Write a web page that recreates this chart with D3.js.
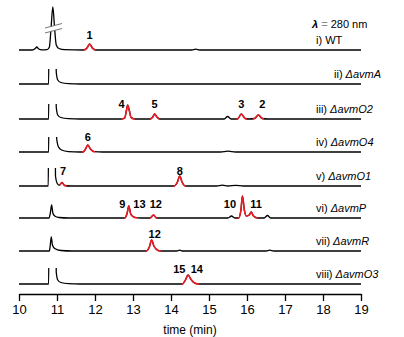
<!DOCTYPE html>
<html>
<head>
<meta charset="utf-8">
<script src="https://cdn.jsdelivr.net/npm/d3@7"></script>
<style>
body { margin: 0; background: #fff; }
svg text { font-family: "Liberation Sans", Arial, sans-serif; }
</style>
</head>
<body>
<svg width="404" height="337"></svg>
<script>
// chromatogram traces: [time (min), signal]
var traceWT = [[10,0],[10.35,0],[10.42,1.2],[10.47,3],[10.52,1],[10.6,0.2],[10.74,0.4],[10.8,3],[10.84,20],[10.89,43],[10.94,20],[10.98,5],[11.05,1.5],[11.2,0.3],[11.7,0],[11.79,2],[11.86,6],[11.93,2],[12.02,0],[14.55,0],[14.65,0.8],[14.75,0],[19,0]];
var traceA = [[10,0],[10.78,0],[10.79,60],[10.97,60],[10.98,12],[11.02,4],[11.1,1.5],[11.3,0.3],[11.6,0],[19,0]];
var traceO2 = [[10,0],[10.78,0],[10.79,60],[10.97,60],[10.98,12],[11.02,4],[11.1,1.5],[11.3,0.3],[11.6,0],[12.7,0],[12.78,1],[12.83,9],[12.86,14],[12.9,9],[12.95,1.5],[13.05,0],[13.45,0],[13.52,2],[13.57,5],[13.63,2],[13.7,0],[15.4,0],[15.49,2.5],[15.58,0],[15.75,0],[15.85,5],[15.95,0.5],[16.05,0],[16.2,0.5],[16.3,4],[16.4,0.5],[16.55,0],[19,0]];
var traceO4 = [[10,0],[10.78,0],[10.79,60],[10.98,60],[10.99,14],[11.04,5],[11.12,2],[11.3,0.4],[11.6,0],[11.68,0],[11.75,3],[11.81,7],[11.88,3],[11.98,0.3],[12.2,0],[15.3,0],[15.5,0.8],[15.7,0],[19,0]];
var traceO1 = [[10,0],[10.77,0],[10.78,60],[10.95,60],[10.96,10],[11.0,3],[11.06,0.8],[11.13,3.5],[11.2,0.5],[11.35,0],[14.08,0],[14.17,4],[14.23,10],[14.29,4],[14.38,0],[15.2,0],[15.35,0.8],[15.5,0],[15.7,0.6],[15.9,0],[19,0]];
var traceP = [[10,0],[10.79,0],[10.82,4],[10.86,13],[10.89,5],[10.94,2],[11.05,0.5],[11.3,0],[12.78,0],[12.84,4],[12.89,12],[12.94,4],[13.0,1.5],[13.08,0.3],[13.2,0],[13.45,0],[13.54,3],[13.62,0],[15.5,0],[15.59,2],[15.68,0],[15.78,0],[15.84,8],[15.88,22],[15.93,8],[15.98,2],[16.06,3],[16.11,6],[16.17,2],[16.28,0],[16.45,0],[16.54,2.5],[16.62,0],[19,0]];
var traceR = [[10,0],[10.8,0],[10.82,5],[10.85,14],[10.88,6],[10.94,2.5],[11.1,0.5],[11.4,0],[13.35,0],[13.43,4],[13.49,11],[13.55,5],[13.62,1.5],[13.72,0],[14.15,0],[14.23,0.8],[14.3,0],[16.5,0],[16.6,0.8],[16.7,0],[19,0]];
var traceO3 = [[10,0],[10.78,0],[10.79,60],[10.97,60],[10.98,12],[11.02,4],[11.1,1.5],[11.3,0.3],[11.6,0],[14.3,0],[14.38,4],[14.45,9],[14.52,5],[14.6,1.5],[14.72,0],[19,0]];

var traces = [traceWT, traceA, traceO2, traceO4, traceO1, traceP, traceR, traceO3];
var traceNumerals = ["i)", "ii)", "iii)", "iv)", "v)", "vi)", "vii)", "viii)"];
var traceStrains = ["WT", "\u0394avmA", "\u0394avmO2", "\u0394avmO4", "\u0394avmO1", "\u0394avmP", "\u0394avmR", "\u0394avmO3"];

// time windows of the numbered (red) peaks, per trace
var redWindows = [
  [[11.7, 12.03]],
  [],
  [[12.7, 13.05], [13.45, 13.7], [15.72, 16.0], [16.15, 16.45]],
  [[11.66, 12.0]],
  [[11.06, 11.26], [14.07, 14.4]],
  [[12.77, 13.12], [13.44, 13.64], [15.76, 16.28]],
  [[13.34, 13.75]],
  [[14.29, 14.75]]
];

// peak numbers: trace index, time, label
var peakLabels = [
  [0, 11.86, "1"],
  [2, 12.7, "4"], [2, 13.57, "5"], [2, 15.85, "3"], [2, 16.4, "2"],
  [3, 11.81, "6"],
  [4, 11.16, "7"], [4, 14.23, "8"],
  [5, 12.72, "9"], [5, 13.17, "13"], [5, 13.6, "12"], [5, 15.55, "10"], [5, 16.24, "11"],
  [6, 13.57, "12"],
  [7, 14.22, "15"], [7, 14.68, "14"]
];

var timeTicks = [10, 11, 12, 13, 14, 15, 16, 17, 18, 19];

var svg = d3.select("svg");
var x = d3.scaleLinear().domain([10, 19]).range([19, 361]);
var baselines = [50, 84, 119, 152, 186, 218, 251, 284];
var laneCap = [60, 15, 15, 15, 18, 30, 30, 16];
var labelLift = [11, 11, 11, 11, 11, 10, 13, 11];

var defs = svg.append("defs");

traces.forEach(function(data, i) {
  var y = d3.scaleLinear().domain([0, 1]).range([baselines[i], baselines[i] - 1]);
  var line = d3.line()
    .x(function(d) { return x(d[0]); })
    .y(function(d) { return y(d[1]); })
    .curve(d3.curveMonotoneX);

  defs.append("clipPath").attr("id", "lane" + i)
    .append("rect")
    .attr("x", 0).attr("width", 404)
    .attr("y", baselines[i] - laneCap[i]).attr("height", laneCap[i] + 10);

  var g = svg.append("g").attr("clip-path", "url(#lane" + i + ")");
  g.append("path")
    .datum(data)
    .attr("fill", "none")
    .attr("stroke", "#000")
    .attr("stroke-width", 1.3)
    .attr("d", line);

  redWindows[i].forEach(function(w, k) {
    var id = "red" + i + "_" + k;
    defs.append("clipPath").attr("id", id)
      .append("rect")
      .attr("x", x(w[0])).attr("width", x(w[1]) - x(w[0]))
      .attr("y", 0).attr("height", 337);
    g.append("g").attr("clip-path", "url(#" + id + ")")
      .append("path")
      .datum(data)
      .attr("fill", "none")
      .attr("stroke", "#ee1b24")
      .attr("stroke-width", 1.6)
      .attr("d", line);
  });

  var lab = svg.append("text")
    .attr("x", 316 + (i == 1 ? 18 : 0))
    .attr("y", baselines[i] - 6)
    .attr("font-size", 11)
    .attr("fill", "#000");
  lab.append("tspan").text(traceNumerals[i] + " ");
  if (i == 0) lab.append("tspan").text(traceStrains[i]);
  else lab.append("tspan").attr("font-style", "italic").text(traceStrains[i]);
});

// break marks across the off-scale peak in WT
var brk = svg.append("g");
brk.append("polygon")
  .attr("points", "45,28.5 62,24 62,28 45,32.5")
  .attr("fill", "#fff");
brk.append("line").attr("x1", 45).attr("y1", 28).attr("x2", 62).attr("y2", 23.5)
  .attr("stroke", "#777").attr("stroke-width", 1);
brk.append("line").attr("x1", 45).attr("y1", 33).attr("x2", 62).attr("y2", 28.5)
  .attr("stroke", "#777").attr("stroke-width", 1);

// peak numbers
svg.selectAll(".pk")
  .data(peakLabels)
  .enter().append("text")
  .attr("class", "pk")
  .attr("x", function(d) { return x(d[1]); })
  .attr("y", function(d) { return baselines[d[0]] - labelLift[d[0]]; })
  .attr("text-anchor", "middle")
  .attr("font-size", 11)
  .attr("font-weight", "bold")
  .text(function(d) { return d[2]; });

// wavelength note
var lam = svg.append("text").attr("x", 312).attr("y", 28).attr("font-size", 11);
lam.append("tspan").attr("font-weight", "bold").attr("font-style", "italic").text("\u03bb");
lam.append("tspan").attr("fill", "#888").text(" = ");
lam.append("tspan").text("280 nm");

// time axis
var axis = svg.append("g")
  .attr("transform", "translate(0,294)")
  .call(d3.axisBottom(x).tickValues(timeTicks).tickFormat(d3.format("d")).tickSize(7).tickSizeOuter(0).tickPadding(4));
axis.select(".domain").attr("stroke-width", 1.3);
axis.selectAll(".tick line").attr("stroke-width", 1.3);
axis.selectAll(".tick text").attr("font-size", 13).attr("font-family", "Liberation Sans, Arial, sans-serif");

svg.append("text")
  .attr("x", x(14.5))
  .attr("y", 334)
  .attr("text-anchor", "middle")
  .attr("font-size", 12)
  .text("time (min)");
</script>
</body>
</html>
